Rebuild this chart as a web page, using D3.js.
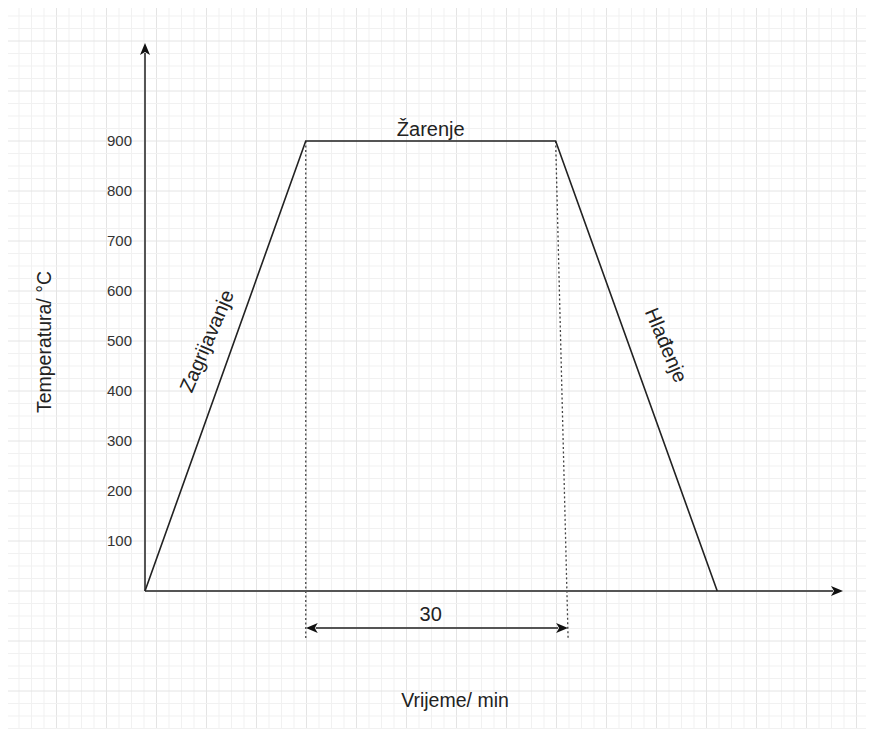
<!DOCTYPE html>
<html>
<head>
<meta charset="utf-8">
<script src="https://cdn.jsdelivr.net/npm/d3@7"></script>
<style>
  body { margin: 0; background: #fff; }
  text { font-family: "Liberation Sans", Arial, sans-serif; }
</style>
</head>
<body>
<div id="chart"></div>
<script>
(function() {
  var width = 874, height = 735;

  // annealing profile (time in min, temperature in °C)
  var times = [0, 19.3, 49.3, 68.7];
  var temps = [0, 900, 900, 0];
  var yTicks = [100, 200, 300, 400, 500, 600, 700, 800, 900];

  // hold period dimension
  var holdStart = 19.3, holdEnd = 49.3, dimEnd = 50.8;
  var holdLabel = "30";

  // stage labels
  var stageNames = ["Zagrijavanje", "Žarenje", "Hlađenje"];
  var stageTimes = [7.4, 34.3, 62.6];
  var stageTemps = [500, 924, 492];

  var xMax = 83.8, yMax = 1096;

  var xPositionScale = d3.scaleLinear().domain([0, xMax]).range([145, 843]);
  var yPositionScale = d3.scaleLinear().domain([0, 900]).range([591, 141]);

  var svg = d3.select("#chart")
    .append("svg")
    .attr("width", width)
    .attr("height", height);

  // arrow heads
  var defs = svg.append("defs");
  defs.append("marker")
    .attr("id", "arrow")
    .attr("viewBox", "0 0 12 10")
    .attr("refX", 2)
    .attr("refY", 5)
    .attr("markerWidth", 12)
    .attr("markerHeight", 10)
    .attr("markerUnits", "userSpaceOnUse")
    .attr("orient", "auto-start-reverse")
    .append("path")
    .attr("d", "M0,0 L12,5 L0,10 L3,5 Z")
    .attr("fill", "#111");

  // background grid (draw.io style)
  var grid = svg.append("g").attr("class", "grid");
  var gx0 = 8, gx1 = 866, gy0 = 8, gy1 = 729, step = 12.5;
  var vx = d3.range(6.5 + step, gx1, step);
  var hy = d3.range(16, gy1, step);
  grid.selectAll(".vline")
    .data(vx)
    .enter().append("line")
      .attr("x1", function(d) { return d }).attr("x2", function(d) { return d })
      .attr("y1", gy0).attr("y2", gy1)
      .attr("stroke", function(d, i) { return (i + 1) % 4 == 0 ? "#e4e4e4" : "#f1f1f1" })
      .attr("stroke-width", 1);
  grid.selectAll(".hline")
    .data(hy)
    .enter().append("line")
      .attr("y1", function(d) { return d }).attr("y2", function(d) { return d })
      .attr("x1", gx0).attr("x2", gx1)
      .attr("stroke", function(d, i) { return (i + 2) % 4 == 0 ? "#e4e4e4" : "#f1f1f1" })
      .attr("stroke-width", 1);

  // dotted guides for the hold period
  svg.append("line")
    .attr("x1", xPositionScale(holdStart)).attr("y1", yPositionScale(900))
    .attr("x2", xPositionScale(holdStart)).attr("y2", yPositionScale(-98))
    .attr("stroke", "#444").attr("stroke-width", 1.3)
    .attr("stroke-dasharray", "2,2.5");
  svg.append("line")
    .attr("x1", xPositionScale(holdEnd)).attr("y1", yPositionScale(900))
    .attr("x2", xPositionScale(dimEnd)).attr("y2", yPositionScale(-98))
    .attr("stroke", "#444").attr("stroke-width", 1.3)
    .attr("stroke-dasharray", "2,2.5");

  // axes
  svg.append("line")
    .attr("x1", xPositionScale(0)).attr("y1", yPositionScale(0))
    .attr("x2", xPositionScale(0)).attr("y2", yPositionScale(yMax) + 10)
    .attr("stroke", "#555").attr("stroke-width", 2)
    .attr("marker-end", "url(#arrow)");
  svg.append("line")
    .attr("x1", xPositionScale(0)).attr("y1", yPositionScale(0))
    .attr("x2", xPositionScale(xMax) - 10).attr("y2", yPositionScale(0))
    .attr("stroke", "#555").attr("stroke-width", 2)
    .attr("marker-end", "url(#arrow)");

  var yAxis = d3.axisLeft(yPositionScale)
    .tickValues(yTicks)
    .tickSize(0)
    .tickPadding(13);
  var yg = svg.append("g")
    .attr("class", "axis y-axis")
    .attr("transform", "translate(" + xPositionScale(0) + ",0)")
    .call(yAxis);
  yg.select(".domain").remove();
  yg.selectAll("text")
    .style("font-family", "'Liberation Sans', Arial, sans-serif")
    .style("font-size", "15px")
    .attr("fill", "#333");

  // the profile
  var line = d3.line()
    .x(function(d, i) { return xPositionScale(times[i]) })
    .y(function(d) { return yPositionScale(d) });
  svg.append("path")
    .datum(temps)
    .attr("d", line)
    .attr("fill", "none")
    .attr("stroke", "#222")
    .attr("stroke-width", 1.6)
    .attr("stroke-linejoin", "miter");

  // dimension arrow
  svg.append("line")
    .attr("x1", xPositionScale(holdStart) + 10).attr("y1", yPositionScale(-74))
    .attr("x2", xPositionScale(dimEnd) - 10).attr("y2", yPositionScale(-74))
    .attr("stroke", "#555").attr("stroke-width", 2)
    .attr("marker-start", "url(#arrow)")
    .attr("marker-end", "url(#arrow)");
  svg.append("text")
    .attr("x", xPositionScale((holdStart + holdEnd) / 2))
    .attr("y", yPositionScale(-46))
    .attr("dy", "0.35em")
    .attr("text-anchor", "middle")
    .style("font-size", "20px")
    .attr("fill", "#222")
    .text(holdLabel);

  // stage labels
  var angles = [-67, 0, 67];
  svg.selectAll(".stage")
    .data(stageNames)
    .enter().append("text")
      .attr("class", "stage")
      .attr("text-anchor", "middle")
      .attr("dy", "0.35em")
      .attr("transform", function(d, i) {
        return "translate(" + xPositionScale(stageTimes[i]) + "," + yPositionScale(stageTemps[i]) + ") rotate(" + angles[i] + ")";
      })
      .style("font-size", "20px")
      .attr("fill", "#222")
      .text(function(d) { return d });

  // axis titles
  svg.append("text")
    .attr("transform", "translate(44,342) rotate(-90)")
    .attr("text-anchor", "middle")
    .attr("dy", "0.35em")
    .style("font-size", "19.5px")
    .attr("fill", "#222")
    .text("Temperatura/ °C");
  svg.append("text")
    .attr("x", 455)
    .attr("y", 700)
    .attr("text-anchor", "middle")
    .attr("dy", "0.35em")
    .style("font-size", "19.5px")
    .attr("fill", "#222")
    .text("Vrijeme/ min");
})();
</script>
</body>
</html>
